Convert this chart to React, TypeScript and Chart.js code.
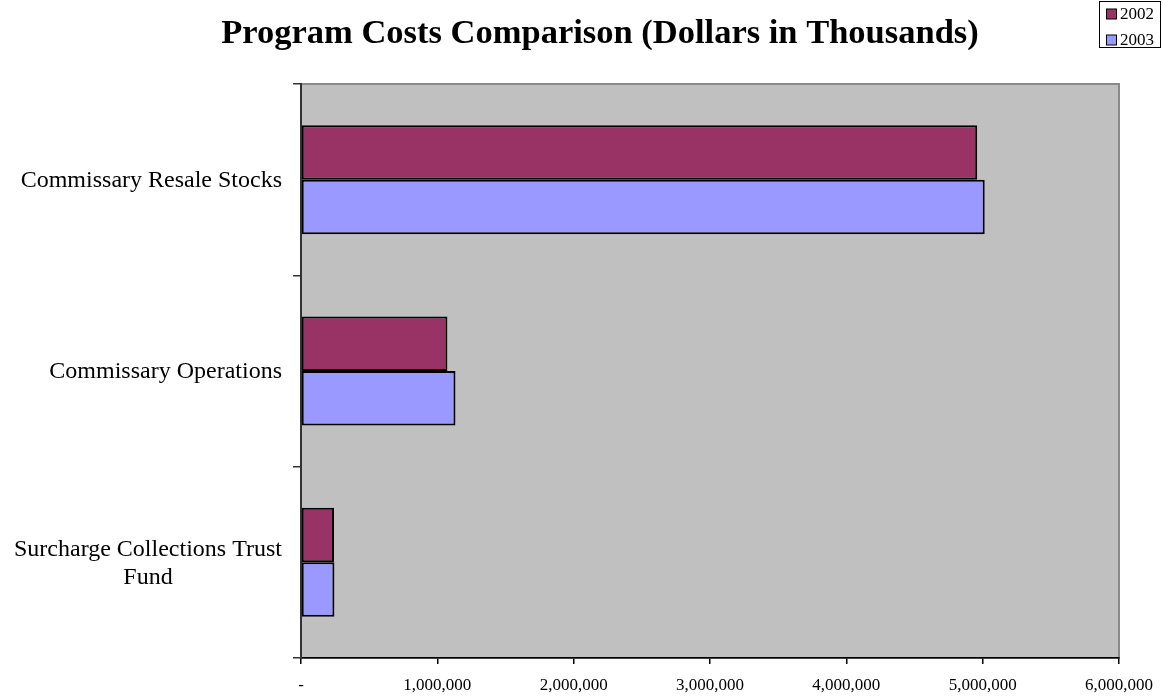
import React, { useEffect, useRef } from 'react';
import { Chart, registerables } from 'chart.js';

Chart.register(...registerables);

// ---- data ----
const categories: string[][] = [
  ['Commissary Resale Stocks'],
  ['Commissary Operations'],
  ['Surcharge Collections Trust', 'Fund'],
];
const seriesNames = ['2002', '2003'];
const values2002 = [4960000, 1074000, 242000];
const values2003 = [5015000, 1133000, 245000];
const xTickLabels = ['-', '1,000,000', '2,000,000', '3,000,000', '4,000,000', '5,000,000', '6,000,000'];
const titleText = 'Program Costs Comparison (Dollars in Thousands)';

const colors = ['#993366', '#9999FF'];
const SERIF = '"Liberation Serif", "Times New Roman", serif';

const plotBg = {
  id: 'plotBg',
  beforeDraw(chart: any) {
    const { ctx, chartArea: a } = chart;
    ctx.save();
    ctx.fillStyle = '#C0C0C0';
    ctx.fillRect(a.left, a.top, a.right - a.left, a.bottom - a.top);
    ctx.strokeStyle = '#8a8a8a';
    ctx.lineWidth = 2;
    ctx.strokeRect(a.left, a.top, a.right - a.left, a.bottom - a.top);
    ctx.restore();
  },
};

const yLabels = {
  id: 'yLabels',
  afterDraw(chart: any) {
    const { ctx } = chart;
    const ys = chart.scales.y;
    ctx.save();
    ctx.font = `24px ${SERIF}`;
    ctx.fillStyle = '#000';
    ctx.textAlign = 'center';
    ctx.textBaseline = 'middle';
    categories.forEach((lines, i) => {
      const cy = ys.getPixelForValue(i);
      const maxW = Math.max(...lines.map((l) => ctx.measureText(l).width));
      const cx = ys.right - 19 - maxW / 2;
      lines.forEach((l, j) => {
        ctx.fillText(l, cx, cy + 1 + (j - (lines.length - 1) / 2) * 28);
      });
    });
    ctx.restore();
  },
};

const boxLegend = {
  id: 'boxLegend',
  afterDraw(chart: any) {
    const { ctx } = chart;
    ctx.save();
    ctx.fillStyle = '#fff';
    ctx.fillRect(1099.5, 1.5, 61, 46);
    ctx.strokeStyle = '#000';
    ctx.lineWidth = 1;
    ctx.strokeRect(1099.5, 1.5, 61, 46);
    ctx.font = `17px ${SERIF}`;
    ctx.textBaseline = 'middle';
    ctx.textAlign = 'left';
    chart.data.datasets.forEach((ds: any, i: number) => {
      const cy = 14 + i * 26;
      ctx.fillStyle = ds.backgroundColor;
      ctx.fillRect(1106.5, cy - 5, 10, 10);
      ctx.strokeStyle = '#000';
      ctx.strokeRect(1106.5, cy - 5, 10, 10);
      ctx.fillStyle = '#000';
      ctx.fillText(ds.label, 1120, cy + 1);
    });
    ctx.restore();
  },
};

export default function App() {
  const ref = useRef<HTMLCanvasElement | null>(null);
  useEffect(() => {
    if (!ref.current) return;
    const chart = new Chart(ref.current, {
      type: 'bar',
      data: {
        labels: categories.map((c) => c.join(' ')),
        datasets: [
          {
            label: seriesNames[0],
            data: values2002,
            backgroundColor: colors[0],
            borderColor: '#000',
            borderWidth: 2,
            borderSkipped: false,
            categoryPercentage: 0.57,
            barPercentage: 1.0,
          },
          {
            label: seriesNames[1],
            data: values2003,
            backgroundColor: colors[1],
            borderColor: '#000',
            borderWidth: 2,
            borderSkipped: false,
            categoryPercentage: 0.57,
            barPercentage: 1.0,
          },
        ],
      },
      options: {
        indexAxis: 'y',
        responsive: false,
        animation: false,
        layout: { padding: { left: 37, right: 0, top: 0, bottom: 0 } },
        plugins: {
          legend: { display: false },
          tooltip: { enabled: false },
          title: {
            display: true,
            text: titleText,
            color: '#000',
            font: { family: SERIF, size: 34.5, weight: 'bold', lineHeight: 1.2 },
            padding: { top: 13, bottom: 29.6 },
          },
        },
        scales: {
          x: {
            type: 'linear',
            min: 0,
            max: 6000000,
            afterFit(scale: any) {
              scale.height = 38;
              scale.paddingRight = 44;
            },
            ticks: {
              stepSize: 1000000,
              color: '#000',
              font: { family: SERIF, size: 17 },
              padding: 11,
              maxRotation: 0,
              callback: (_v: any, i: number) => xTickLabels[i],
            },
            grid: { drawOnChartArea: false, tickLength: 6, color: '#000', lineWidth: 1.5 },
            border: { display: true, color: '#000', width: 1.5 },
          },
          y: {
            type: 'category',
            afterFit(scale: any) {
              scale.width = 264;
            },
            ticks: { display: false },
            grid: { offset: true, drawOnChartArea: false, tickLength: 8, color: '#333', lineWidth: 1.5 },
            border: { display: true, color: '#333', width: 2 },
          },
        },
      },
      plugins: [plotBg, yLabels, boxLegend],
    } as any);
    return () => chart.destroy();
  }, []);
  return (
    <div style={{ position: 'absolute', left: 0, top: 0, width: 1163, height: 696, background: '#fff' }}>
      <canvas ref={ref} width={1163} height={696} />
    </div>
  );
}
